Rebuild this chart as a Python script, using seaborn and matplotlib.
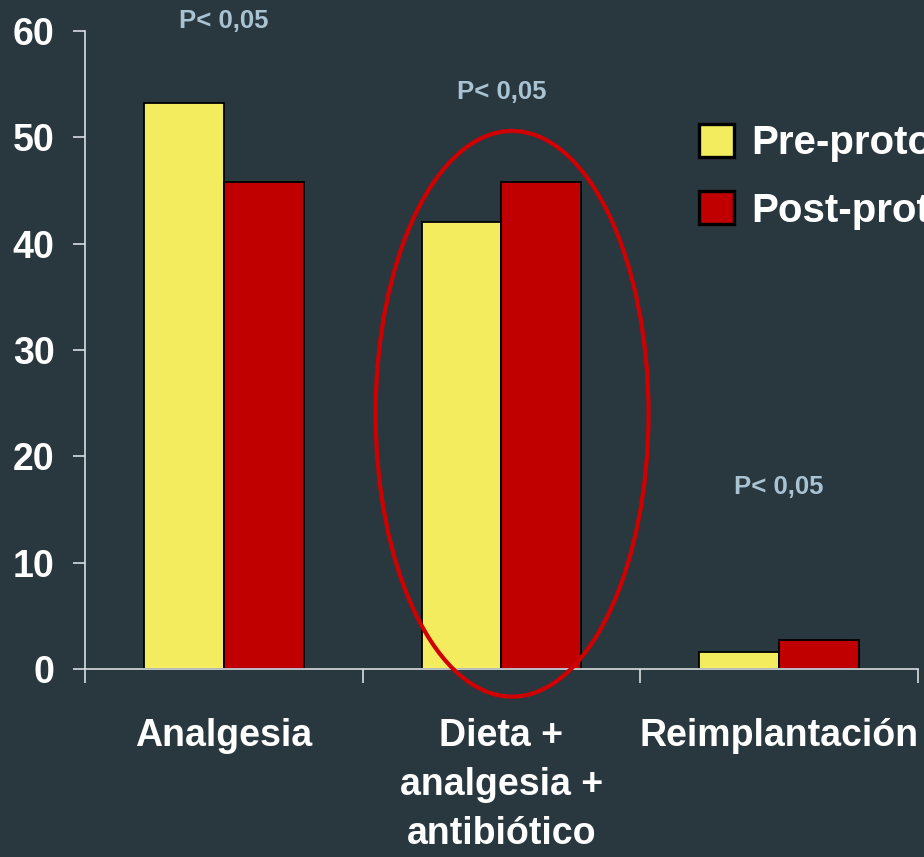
import matplotlib
matplotlib.use("Agg")
import matplotlib.pyplot as plt
from matplotlib.patches import Ellipse, Patch
import seaborn as sns
import pandas as pd

categories = ["Analgesia", "Dieta +\nanalgesia +\nantibiótico", "Reimplantación"]
groups = ["Pre-protocolo", "Post-protocolo"]
pre_values = [53.2, 42.0, 1.6]
post_values = [45.8, 45.8, 2.7]
p_labels = ["P< 0,05", "P< 0,05", "P< 0,05"]
y_ticks = [0, 10, 20, 30, 40, 50, 60]

bg = "#29373f"
yellow = "#f2ec5e"
red = "#c00000"
p_color = "#a9c3d3"

df = pd.DataFrame({
    "categoria": categories * 2,
    "grupo": [groups[0]] * 3 + [groups[1]] * 3,
    "valor": pre_values + post_values,
})

sns.set_theme(style="white")
plt.rcParams["font.family"] = ["Liberation Sans", "DejaVu Sans"]
plt.rcParams["font.weight"] = "bold"

fig = plt.figure(figsize=(9.24, 8.57), dpi=100, facecolor=bg)
ax = fig.add_axes([85 / 924, 1 - 669 / 857, (918 - 85) / 924, (669 - 31) / 857])
ax.set_facecolor("none")

sns.barplot(data=df, x="categoria", y="valor", hue="grupo", order=categories,
            hue_order=groups, palette=[yellow, red], width=0.576,
            edgecolor="black", linewidth=1.3, saturation=1, ax=ax, legend=False)

ax.set_xlim(-0.5, 2.5)
ax.set_ylim(0, 60)
ax.set_xlabel("")
ax.set_ylabel("")

for side in ["top", "right"]:
    ax.spines[side].set_visible(False)
for side in ["left", "bottom"]:
    ax.spines[side].set_color("#d8dde0")
    ax.spines[side].set_linewidth(1.2)

ax.set_yticks(y_ticks)
ax.set_yticklabels([str(t) for t in y_ticks], color="white", fontsize=27, fontweight="bold")
ax.tick_params(axis="y", length=9, width=1.2, color="#d8dde0", direction="out", left=True, pad=13)

# boundary ticks between categories, labels at category centres
ax.set_xticks([-0.5, 0.5, 1.5, 2.5])
ax.set_xticklabels([])
ax.tick_params(axis="x", which="major", length=10, width=1.2, color="#d8dde0", direction="out", bottom=True)
ax.set_xticks([0, 1, 2], minor=True)
ax.set_xticklabels(categories, minor=True, color="white", fontsize=27, fontweight="bold",
                   linespacing=1.47, va="top")
ax.tick_params(axis="x", which="minor", length=0, pad=35)

# significance marks
p_pos = [(0.0, 60.9), (1.0, 54.3), (2.0, 17.1)]
for (x, y), lab in zip(p_pos, p_labels):
    ax.text(x, y, lab, ha="center", va="center", color=p_color, fontsize=18.5,
            fontweight="bold", clip_on=False)

# highlight around the middle group
ax.add_patch(Ellipse((1.038, 24.0), 0.983, 53.2, fill=False, edgecolor="#d00000",
                     linewidth=3, clip_on=False, zorder=5))

handles = [Patch(facecolor=yellow, edgecolor="black", linewidth=2.4),
           Patch(facecolor=red, edgecolor="black", linewidth=2.4)]
leg = fig.legend(handles, groups, loc="upper left", bbox_to_anchor=(699 / 924, 1 - 124 / 857),
                 frameon=False, fontsize=29, handlelength=0.88, handleheight=0.88,
                 handletextpad=0.42, labelspacing=0.72, borderpad=0, borderaxespad=0)
for t in leg.get_texts():
    t.set_color("white")
    t.set_fontweight("bold")

fig.savefig("out.png", dpi=100, facecolor=bg)
